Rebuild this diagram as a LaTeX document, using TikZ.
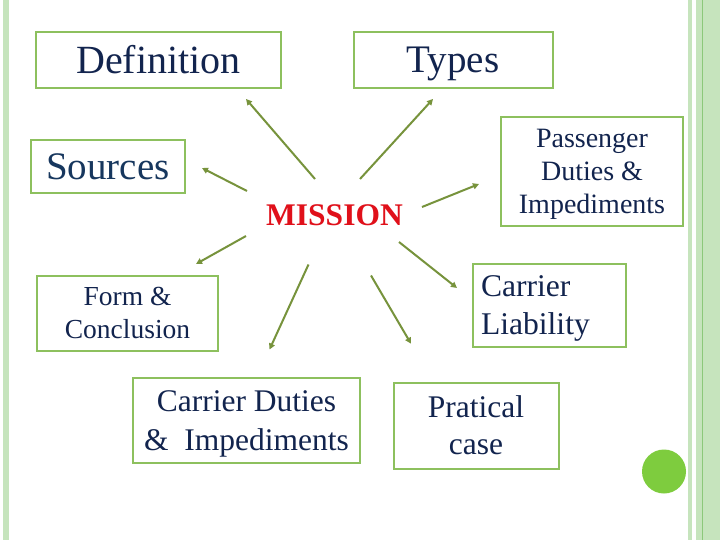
\documentclass[tikz,border=0pt]{standalone}
\usepackage{fontspec}
\setmainfont{Liberation Serif}
\usetikzlibrary{arrows.meta}
\definecolor{boxgreen}{HTML}{8DC05E}
\definecolor{arrowgreen}{HTML}{77933C}
\definecolor{navy}{HTML}{12244E}
\definecolor{srcblue}{HTML}{17375E}
\definecolor{stripe}{HTML}{C6E4BD}
\definecolor{stripedark}{HTML}{8CC87A}
\definecolor{dotgreen}{HTML}{7ECC3E}
\definecolor{mred}{HTML}{E0101A}
\begin{document}
\begin{tikzpicture}[x=1pt,y=-1pt,
  box/.style={draw=boxgreen,line width=2pt,inner sep=0pt,text=navy,align=center},
  link/.style={draw=arrowgreen,line width=2pt,-{Triangle[length=6pt,width=6pt]}}]
\useasboundingbox (0,0) rectangle (720,540);
\fill[white] (0,0) rectangle (720,540);
\fill[stripe] (3,0) rectangle (8.5,540);
\fill[stripe] (688,0) rectangle (692.3,540);
\fill[stripe] (696,0) rectangle (720,540);
\draw[stripedark,line width=1.2pt] (702.3,0) -- (702.3,540);

\node[box,minimum width=245pt,minimum height=56pt,font=\fontsize{40}{46}\selectfont,text height=26.5pt,text depth=0pt] (def) at (158.5,60) {Definition};
\node[box,minimum width=199pt,minimum height=56pt,font=\fontsize{39}{45}\selectfont,text height=25.8pt,text depth=0pt] (types) at (453,60) {Types};
\node[box,minimum width=182pt,minimum height=109pt,font=\fontsize{28}{33}\selectfont,text height=84.5pt,text depth=0pt] (pass) at (592,171.5) {Passenger\\Duties \&\\Impediments};
\node[box,text=srcblue,minimum width=154pt,minimum height=53pt,font=\fontsize{39}{45}\selectfont,text height=25.8pt,text depth=0pt] (src) at (108,166.5) {Sources};
\node[text=mred,font=\fontsize{31.5}{36}\bfseries\selectfont,inner sep=0pt,text height=21.2pt,text depth=0pt] (mission) at (334.5,215) {MISSION};
\node[box,minimum width=181pt,minimum height=75pt,font=\fontsize{27.5}{33.5}\selectfont,text height=51.7pt,text depth=0pt] (form) at (127.5,313) {Form \&\\Conclusion};
\node[box,minimum width=153pt,minimum height=83pt,align=left,text width=136pt,inner xsep=8.5pt,font=\fontsize{31.6}{38}\selectfont,text height=20.9pt,text depth=38pt] (liab) at (549,305.5) {Carrier\\Liability};
\node[box,minimum width=227pt,minimum height=85pt,font=\fontsize{31.5}{39}\selectfont,text height=59.8pt,text depth=0pt] (duties) at (246.5,420.5) {Carrier Duties\\\&\ \ Impediments};
\node[box,minimum width=165pt,minimum height=86pt,font=\fontsize{31.5}{37}\selectfont,text height=57.8pt,text depth=0pt] (prat) at (476,425.5) {Pratical\\case};
\node[circle,fill=dotgreen,minimum size=44pt,inner sep=0pt] (dot) at (664,471.5) {};

\coordinate (t1) at (315,179);   \coordinate (h1) at (246,99);
\coordinate (t2) at (360,179);   \coordinate (h2) at (433,99);
\coordinate (t3) at (247,191);   \coordinate (h3) at (202,168);
\coordinate (t4) at (422,207);   \coordinate (h4) at (479,184);
\coordinate (t5) at (246,236);   \coordinate (h5) at (196,264);
\coordinate (t6) at (399,242);   \coordinate (h6) at (457,288);
\coordinate (t7) at (308.5,264.5); \coordinate (h7) at (269.5,349.5);
\coordinate (t8) at (371,275.5); \coordinate (h8) at (411,343.7);
\foreach \i in {1,...,8} \draw[link] (t\i) -- (h\i);
\end{tikzpicture}
\end{document}
